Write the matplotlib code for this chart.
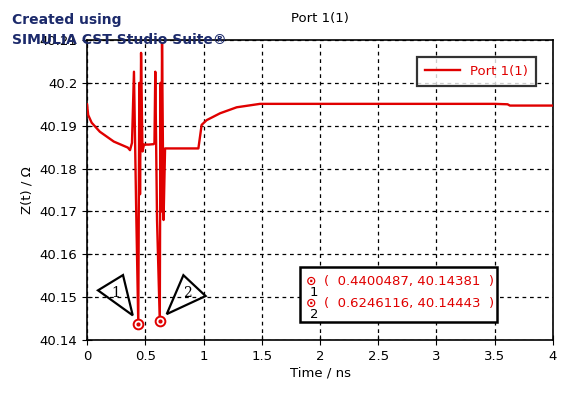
import matplotlib
matplotlib.use("Agg")
import matplotlib.pyplot as plt
from matplotlib.patches import Polygon, Rectangle
from matplotlib.transforms import offset_copy

# Port 1(1) impedance vs time
t_ns = [0.0, 0.01, 0.04, 0.11, 0.23, 0.35, 0.369, 0.386, 0.403, 0.421, 0.4400487,
        0.449, 0.455, 0.464, 0.476, 0.489, 0.53, 0.572, 0.579, 0.586, 0.601,
        0.6246116, 0.631, 0.637, 0.644, 0.657, 0.670, 0.8, 0.956, 0.984, 1.027,
        1.142, 1.285, 1.485, 2.0, 2.5, 3.0, 3.5, 3.61, 3.63, 4.0]
z_ohm = [40.195, 40.1925, 40.1907, 40.1886, 40.1863, 40.1849, 40.1843, 40.186,
         40.2026, 40.172, 40.14381, 40.200, 40.174, 40.207, 40.184, 40.1856,
         40.1856, 40.1857, 40.186, 40.2026, 40.168, 40.14443, 40.200, 40.170,
         40.2092, 40.168, 40.1847, 40.1847, 40.1847, 40.1902, 40.1913, 40.1929,
         40.1943, 40.1951, 40.1951, 40.1951, 40.1951, 40.1951, 40.1950, 40.1947,
         40.1947]

marker_t = [0.4400487, 0.6246116]
marker_z = [40.14381, 40.14443]
marker_names = ["1", "2"]

red = "#e00000"
navy = "#1c2a6b"

fig = plt.figure(figsize=(5.74, 3.98), dpi=100)
ax = fig.add_axes([0.1516, 0.1457, 0.8118, 0.7538])

ax.plot(t_ns, z_ohm, color=red, lw=1.7, label="Port 1(1)", zorder=3)

ax.set_xlim(0, 4)
ax.set_ylim(40.14, 40.21)
ax.set_xticks([0, 0.5, 1, 1.5, 2, 2.5, 3, 3.5, 4])
ax.set_xticklabels(["0", "0.5", "1", "1.5", "2", "2.5", "3", "3.5", "4"])
ax.set_yticks([40.14, 40.15, 40.16, 40.17, 40.18, 40.19, 40.2, 40.21])
ax.set_yticklabels(["40.14", "40.15", "40.16", "40.17", "40.18", "40.19", "40.2", "40.21"])
ax.tick_params(direction="inout", length=7, labelsize=9.5, colors="black")
ax.grid(True, color="black", linestyle=(0, (3, 3)), lw=0.9)
for s in ax.spines.values():
    s.set_linewidth(1.2)

ax.set_xlabel("Time / ns", fontsize=9.5, labelpad=3)
ax.set_ylabel("Z(t) / Ω", fontsize=9.5, labelpad=4)
ax.set_title("Port 1(1)", fontsize=9.5, pad=13)

leg = ax.legend(loc="upper right", bbox_to_anchor=(0.9635, 0.943), borderaxespad=0,
                fontsize=9.5, frameon=True, fancybox=False, handlelength=2.6,
                borderpad=0.6)
leg.get_frame().set_edgecolor("black")
leg.get_frame().set_linewidth(1.6)
for txt in leg.get_texts():
    txt.set_color(red)

# marker circles
ax.plot(marker_t, marker_z, "o", ms=7, mfc="white", mec=red, mew=1.4, zorder=5)
ax.plot(marker_t, marker_z, "o", ms=2, color=red, zorder=6)

# triangle labels next to markers (offsets in points)
tri_offsets = [[(-29, 24), (-11, 35), (-4, 6)], [(17, 33), (33, 18), (5, 5)]]
lbl_offsets = [(-16, 22), (20, 20)]
for mt, mz, name, tri, lo in zip(marker_t, marker_z, marker_names, tri_offsets, lbl_offsets):
    disp = ax.transData.transform((mt, mz))
    verts = [(disp[0] + dx * 100 / 72, disp[1] + dy * 100 / 72) for dx, dy in tri]
    poly = Polygon(verts, closed=True, fill=False, edgecolor="black", lw=1.6,
                   transform=None, zorder=4)
    fig.add_artist(poly)
    tr = offset_copy(ax.transData, fig=fig, x=lo[0], y=lo[1], units="points")
    ax.text(mt, mz, name, transform=tr, fontsize=10, ha="center", va="center",
            family="DejaVu Serif", zorder=5)

# marker readout box
box_lines = ["(  %s, %s  )" % (mt, mz) for mt, mz in zip(marker_t, marker_z)]
fig.add_artist(Rectangle((300 / 574, (398 - 322) / 398), 197 / 574, 55 / 398,
                         transform=fig.transFigure, facecolor="white",
                         edgecolor="black", lw=1.8, zorder=5))
for i, (line, name) in enumerate(zip(box_lines, marker_names)):
    y = (398 - 282 - i * 22) / 398
    fig.text(311 / 574, y + 1 / 398, "⊙", color=red, fontsize=9, ha="center",
             va="center", fontweight="bold", zorder=7)
    fig.text(314 / 574, y - 10 / 398, name, color="black", fontsize=9.5, ha="center",
             va="center", zorder=7)
    fig.text(324 / 574, y, line, color=red, fontsize=9.5, ha="left", va="center",
             zorder=7)

fig.text(12 / 574, (398 - 20) / 398, "Created using", color=navy, fontsize=10,
         fontweight="bold", va="center")
fig.text(12 / 574, (398 - 40) / 398, "SIMULIA CST Studio Suite®", color=navy,
         fontsize=10, fontweight="bold", va="center")

fig.savefig("out.png", dpi=100)
